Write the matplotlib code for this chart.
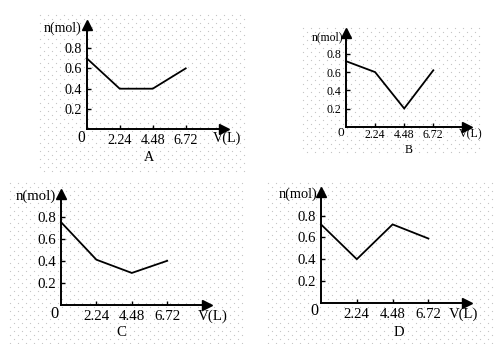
import numpy as np
import matplotlib
matplotlib.use("Agg")
import matplotlib.pyplot as plt

plt.rcParams['font.family'] = ['Liberation Serif', 'DejaVu Serif']

# Gas volume V (L) on the x axis, amount n (mol) on the y axis
volumes = [0, 2.24, 4.48, 6.72]
x_tick_labels = ["2.24", "4.48", "6.72"]
y_ticks = [0.2, 0.4, 0.6, 0.8]
panel_names = ["A", "B", "C", "D"]
n_a = [0.70, 0.40, 0.40, 0.60]
n_b = [0.72, 0.60, 0.20, 0.62]
n_c = [0.75, 0.41, 0.29, 0.40]
n_d = [0.72, 0.40, 0.72, 0.59]
series = [n_a, n_b, n_c, n_d]

W, H = 496, 344
fig = plt.figure(figsize=(W / 100, H / 100), dpi=100)
fig.patch.set_facecolor("white")

# faint staggered dot texture behind each panel
bg = fig.add_axes([0, 0, 1, 1])
bg.set_xlim(0, W)
bg.set_ylim(H, 0)
bg.axis("off")
dot_regions = [(40, 245, 15, 172), (303, 483, 28, 155),
               (10, 245, 183, 344), (268, 495, 183, 344)]
for x0, x1, y0, y1 in dot_regions:
    xs, ys = [], []
    for j, yy in enumerate(np.arange(y0, y1, 4)):
        off = 4 if j % 2 else 0
        row = np.arange(x0 + off, x1, 8)
        xs.extend(row)
        ys.extend([yy] * len(row))
    bg.plot(xs, ys, linestyle="none", marker="s", markersize=0.8,
            markeredgewidth=0, color="#c6c6c6")

# per panel: origin (px), arrow tips (px), font size, label pad and text anchors (px)
layout = [
    dict(ox=86.7, oy=129.3, tipx=224, tipy=25, fs=10.2, pad=3.5,
         nlab=(81, 28), vlab=(213, 138), name=(149, 158)),
    dict(ox=346, oy=126.7, tipx=466.7, tipy=33, fs=8.6, pad=2.0,
         nlab=(343, 37), vlab=(459, 134), name=(409, 150)),
    dict(ox=61, oy=305, tipx=206.7, tipy=194, fs=10.8, pad=3.5,
         nlab=(56, 196), vlab=(198, 316), name=(121, 332)),
    dict(ox=321, oy=302.7, tipx=466.7, tipy=191.7, fs=10.6, pad=3.5,
         nlab=(317, 194), vlab=(449, 314), name=(399, 332)),
]
tick_px = [(33.0, 20.3), (29.1, 18.2), (35.4, 22.1), (35.8, 21.75)]


def px(x, y):
    return x / W, 1 - y / H


for vals, name, L, (dx, dy) in zip(series, panel_names, layout, tick_px):
    ppx = dx / 2.24
    ppy = dy / 0.2
    left, bottom = px(L["ox"], L["oy"])
    width = (L["tipx"] - L["ox"]) / W
    height = (L["oy"] - L["tipy"]) / H
    ax = fig.add_axes([left, bottom, width, height])
    ax.patch.set_alpha(0)
    ax.set_xlim(0, (L["tipx"] - L["ox"]) / ppx)
    ax.set_ylim(0, (L["oy"] - L["tipy"]) / ppy)
    for s in ("top", "right"):
        ax.spines[s].set_visible(False)
    for s in ("left", "bottom"):
        ax.spines[s].set_linewidth(1.4)
        ax.spines[s].set_color("black")
    ax.plot(volumes, vals, color="black", lw=1.3, clip_on=False,
            solid_joinstyle="miter")
    ax.set_xticks(volumes[1:])
    ax.set_xticklabels(x_tick_labels)
    ax.set_yticks(y_ticks)
    ax.set_yticklabels([f"{v:.1f}" for v in y_ticks])
    ax.tick_params(direction="in", length=3, width=1, labelsize=L["fs"],
                   pad=3.5, colors="black")
    ax.tick_params(axis="x", pad=L["pad"])
    # arrow heads at the axis ends
    ax.plot(1, 0, ">k", markersize=7.5, transform=ax.transAxes, clip_on=False)
    ax.plot(0, 1, "^k", markersize=7.5, transform=ax.transAxes, clip_on=False)
    # origin label
    ax.text(-0.015, -0.005, "0", transform=ax.transAxes, ha="right", va="top",
            fontsize=L["fs"] + 1)
    fig.text(*px(*L["nlab"]), "n(mol)", ha="right", va="center",
             fontsize=L["fs"] - 0.2)
    fig.text(*px(*L["vlab"]), "V(L)", ha="left", va="center",
             fontsize=L["fs"])
    fig.text(*px(*L["name"]), name, ha="center", va="center",
             fontsize=L["fs"])

fig.savefig("out.png", dpi=100, facecolor="white")
